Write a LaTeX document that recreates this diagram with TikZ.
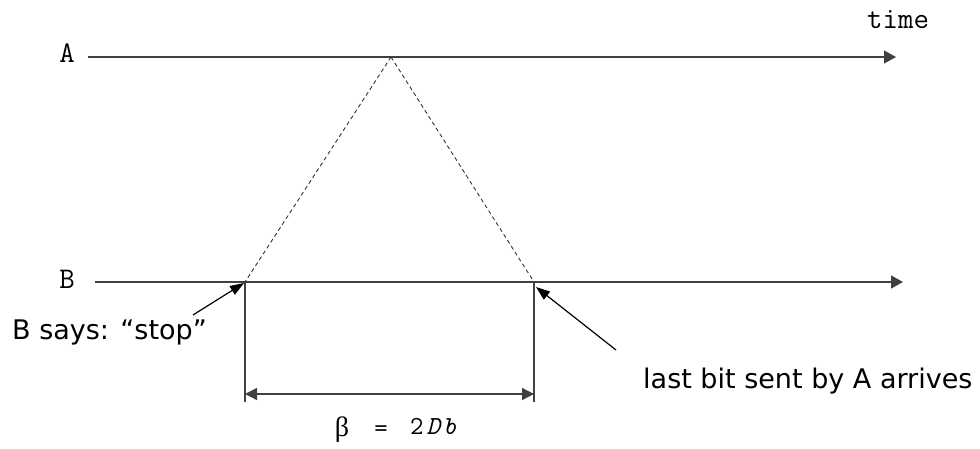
\documentclass[tikz,border=0pt]{standalone}
\usepackage{fontspec}
\setmainfont{DejaVu Sans}
\newfontfamily\serf{Liberation Serif}
\usetikzlibrary{arrows.meta}
\begin{document}
\begin{tikzpicture}[x=1pt,y=-1pt,
  axis/.style={line width=1.3pt,draw=black!75,-{Triangle[length=12pt,width=13pt]}},
  dim/.style={line width=1.3pt,draw=black!75,{Triangle[length=12pt,width=12pt]}-{Triangle[length=12pt,width=12pt]}},
  vline/.style={line width=1.3pt,draw=black!75},
  sig/.style={line width=0.9pt,dash pattern=on 4pt off 3pt,draw=black!80},
  callout/.style={line width=1.2pt,draw=black,-{Triangle[length=14pt,width=10pt]}},
  mono/.style={font=\ttfamily\fontsize{30}{34}\selectfont,inner sep=0pt},
  lbl/.style={font=\fontsize{27}{32}\selectfont,inner sep=0pt}]
\useasboundingbox (0,0) rectangle (980,449);
\node[mono,anchor=base] (tA) at (67,63) {A};
\node[mono,anchor=base] (tB) at (67,288) {B};
\node[mono,anchor=base west] (time) at (867,29) {time};
\coordinate (a0) at (88,57);
\coordinate (a1) at (896,57);
\coordinate (b0) at (95,282);
\coordinate (b1) at (903,282);
\coordinate (apex) at (391,57);
\coordinate (p) at (245,282);
\coordinate (q) at (534,282);
\coordinate (pl) at (245,402);
\coordinate (ql) at (534,402);
\coordinate (pd) at (245,394);
\coordinate (qd) at (534,394);
\draw[axis] (a0) -- (a1);
\draw[axis] (b0) -- (b1);
\draw[sig] (apex) -- (p);
\draw[sig] (apex) -- (q);
\draw[vline] (p) -- (pl);
\draw[vline] (q) -- (ql);
\draw[dim] (pd) -- (qd);
\node[lbl,anchor=base west] (stop) at (12,339) {B says: “stop”};
\node[lbl,anchor=base west] (last) at (643,388) {last bit sent by A arrives};
\coordinate (s0) at (193,315);
\coordinate (l0) at (616,350);
\draw[callout] (s0) -- (244,283);
\draw[callout] (l0) -- (536,287);
\node[inner sep=0pt,anchor=base] (beta) at (342,436) {\serf\fontsize{28}{30}\selectfont β};
\node[inner sep=0pt,font=\ttfamily\fontsize{26}{28}\selectfont] (eq) at (381,431) {=};
\node[inner sep=0pt,anchor=base west,font=\ttfamily\fontsize{26}{28}\selectfont] (val) at (410,434) {2\hspace{3pt}\itshape D\hspace{3pt}b};
\end{tikzpicture}
\end{document}
